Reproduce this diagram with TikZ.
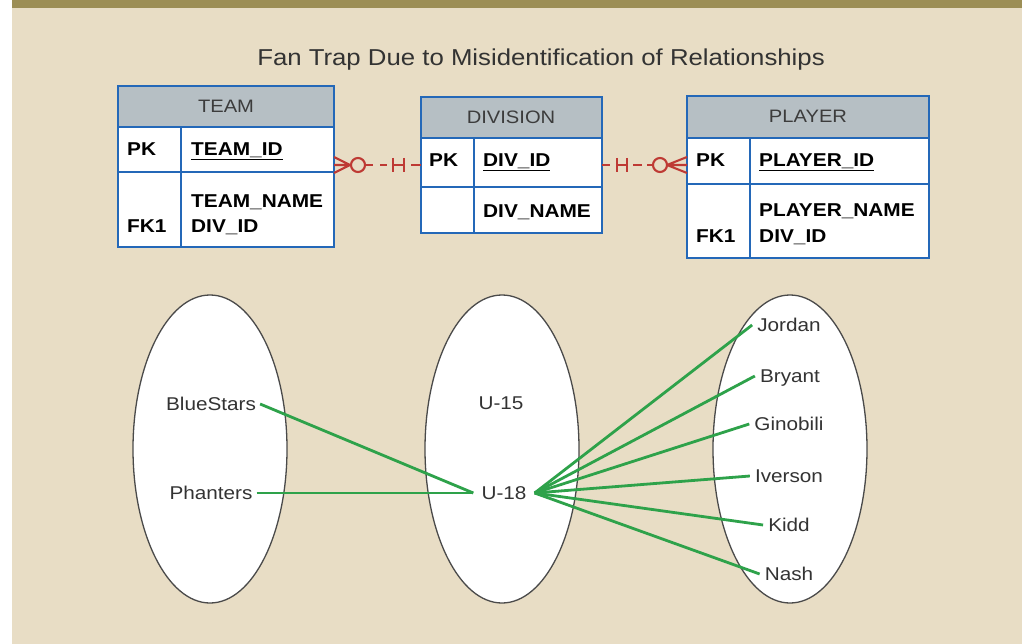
\documentclass[tikz,border=0pt]{standalone}
\usepackage{fontspec}
\setmainfont{Liberation Sans}[FakeStretch=1.12]
\usetikzlibrary{shapes.geometric,calc}
\definecolor{bg}{HTML}{E8DDC5}
\definecolor{band}{HTML}{9C8E55}
\definecolor{tblue}{HTML}{2468B8}
\definecolor{hgray}{HTML}{B6BFC4}
\definecolor{relred}{HTML}{BE3A34}
\definecolor{lgreen}{HTML}{2EA24A}
\definecolor{txtgray}{HTML}{333333}
\definecolor{hdrtxt}{HTML}{3C3C3C}
\definecolor{ellline}{HTML}{4A4A4A}
\begin{document}
\begin{tikzpicture}[x=1pt,y=-1pt,
  cell/.style={draw=tblue, line width=2.6pt, fill=white, anchor=north west, inner sep=0pt, outer sep=0pt},
  hdr/.style={cell, fill=hgray},
  htext/.style={anchor=base, inner sep=0pt, text=hdrtxt, font=\fontsize{18}{22}\selectfont},
  ftext/.style={anchor=base west, inner sep=0pt, text=black, font=\bfseries\fontsize{18.6}{22}\selectfont},
  rel/.style={draw=relred, line width=2.1pt},
  ell/.style={ellipse, draw=ellline, line width=1.3pt, fill=white, inner sep=0pt},
  lab/.style={text=txtgray, font=\fontsize{18.5}{22}\selectfont, text height=13.2pt, text depth=0pt, inner ysep=0pt},
  link/.style={draw=lgreen, line width=2.8pt}
]
\useasboundingbox (0,0) rectangle (1022,644);
\fill[bg] (0,0) rectangle (1022,644);
\fill[white] (0,0) rectangle (12,644);
\fill[band] (12,0) rectangle (1022,8);

\node[anchor=base, inner sep=0pt, text=txtgray, font=\fontsize{23}{28}\selectfont] (title) at (541,66) {Fan Trap Due to Misidentification of Relationships};

% TEAM table
\node[hdr, minimum width=216pt, minimum height=41pt] (teamH) at (118,86) {};
\node[cell, minimum width=63pt, minimum height=45pt] (teamPK) at (118,127) {};
\node[cell, minimum width=153pt, minimum height=45pt] (teamId) at (181,127) {};
\node[cell, minimum width=63pt, minimum height=75pt] (teamFK) at (118,172) {};
\node[cell, minimum width=153pt, minimum height=75pt] (teamAt) at (181,172) {};
\node[htext] (teamHt) at (226,112.5) {TEAM};
\node[ftext] (teamPKt) at (127,156) {PK};
\node[ftext] (teamIdt) at (191,156) {\underline{TEAM\_ID}};
\node[ftext] (teamNm) at (191,208) {TEAM\_NAME};
\node[ftext] (teamDv) at (191,233) {DIV\_ID};
\node[ftext] (teamFKt) at (127,233) {FK1};

% DIVISION table
\node[hdr, minimum width=181pt, minimum height=41pt] (divH) at (421,97) {};
\node[cell, minimum width=53pt, minimum height=49pt] (divPK) at (421,138) {};
\node[cell, minimum width=128pt, minimum height=49pt] (divId) at (474,138) {};
\node[cell, minimum width=53pt, minimum height=46pt] (divBl) at (421,187) {};
\node[cell, minimum width=128pt, minimum height=46pt] (divNm) at (474,187) {};
\node[htext] (divHt) at (511,124) {DIVISION};
\node[ftext] (divPKt) at (429,167) {PK};
\node[ftext] (divIdt) at (483,167) {\underline{DIV\_ID}};
\node[ftext] (divNmt) at (483,218) {DIV\_NAME};

% PLAYER table
\node[hdr, minimum width=242pt, minimum height=42pt] (plH) at (687,96) {};
\node[cell, minimum width=63pt, minimum height=46pt] (plPK) at (687,138) {};
\node[cell, minimum width=179pt, minimum height=46pt] (plId) at (750,138) {};
\node[cell, minimum width=63pt, minimum height=74pt] (plFK) at (687,184) {};
\node[cell, minimum width=179pt, minimum height=74pt] (plAt) at (750,184) {};
\node[htext] (plHt) at (808,123) {PLAYER};
\node[ftext] (plPKt) at (696,167) {PK};
\node[ftext] (plIdt) at (759,167) {\underline{PLAYER\_ID}};
\node[ftext] (plNm) at (759,217) {PLAYER\_NAME};
\node[ftext] (plDv) at (759,243) {DIV\_ID};
\node[ftext] (plFKt) at (696,243) {FK1};

% TEAM - DIVISION relationship
\coordinate (L) at (teamId.east |- 0,165);
\coordinate (Le) at (divPK.west |- L);
\draw[rel] ($(L)+(16,0)$) -- ($(L)+(0,-8)$)
           ($(L)+(16,0)$) -- (L)
           ($(L)+(16,0)$) -- ($(L)+(0,8)$);
\draw[rel] ($(L)+(24,0)$) circle[radius=7];
\draw[rel] ($(L)+(32,0)$) -- ($(L)+(39,0)$);
\draw[rel] ($(L)+(46,0)$) -- ($(L)+(53,0)$);
\draw[rel] ($(L)+(59,0)$) -- ($(L)+(70,0)$);
\draw[rel] ($(L)+(59,-7)$) -- ($(L)+(59,7)$);
\draw[rel] ($(L)+(70,-7)$) -- ($(L)+(70,7)$);
\draw[rel] ($(L)+(77,0)$) -- (Le);

% DIVISION - PLAYER relationship
\coordinate (R) at (divId.east |- 0,165);
\coordinate (Re) at (plPK.west |- R);
\draw[rel] (R) -- ($(R)+(8,0)$);
\draw[rel] ($(R)+(15,0)$) -- ($(R)+(25,0)$);
\draw[rel] ($(R)+(15,-7)$) -- ($(R)+(15,7)$);
\draw[rel] ($(R)+(25,-7)$) -- ($(R)+(25,7)$);
\draw[rel] ($(R)+(31,0)$) -- ($(R)+(40,0)$);
\draw[rel] ($(R)+(45,0)$) -- ($(R)+(51,0)$);
\draw[rel] ($(R)+(58,0)$) circle[radius=7];
\draw[rel] ($(R)+(65,0)$) -- ($(Re)+(0,-8)$)
           ($(R)+(65,0)$) -- (Re)
           ($(R)+(65,0)$) -- ($(Re)+(0,8)$);

% sets
\node[ell, minimum width=154pt, minimum height=308pt] (teamSet) at (210,449) {};
\node[ell, minimum width=154pt, minimum height=308pt] (divSet) at (502,449) {};
\node[ell, minimum width=154pt, minimum height=308pt] (plSet) at (790,449) {};

\node[lab, inner xsep=4pt] (blue) at (211,404) {BlueStars};
\node[lab, inner xsep=4pt] (phan) at (211,493) {Phanters};
\node[lab] (u15) at (501,403) {U-15};
\node[lab, inner xsep=8pt] (u18) at (504,493) {U-18};
\node[lab, inner xsep=5pt] (jordan) at (789,325) {Jordan};
\node[lab, inner xsep=5pt] (bryant) at (790,376) {Bryant};
\node[lab, inner xsep=5pt] (gino) at (789,424) {Ginobili};
\node[lab, inner xsep=5pt] (iver) at (789,476) {Iverson};
\node[lab, inner xsep=5pt] (kidd) at (789,525) {Kidd};
\node[lab, inner xsep=5pt] (nash) at (789,574) {Nash};

\draw[link] (blue.east) -- (u18.west);
\draw[link] (phan.east) -- (u18.west);
\draw[link] (u18.east) -- (jordan.west);
\draw[link] (u18.east) -- (bryant.west);
\draw[link] (u18.east) -- (gino.west);
\draw[link] (u18.east) -- (iver.west);
\draw[link] (u18.east) -- (kidd.west);
\draw[link] (u18.east) -- (nash.west);
\end{tikzpicture}
\end{document}
